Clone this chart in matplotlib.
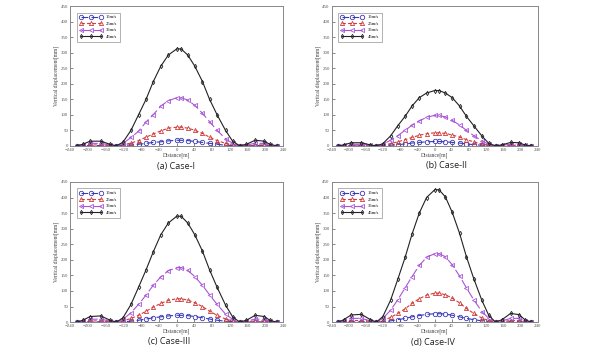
import numpy as np
import matplotlib
matplotlib.use("Agg")
import matplotlib.pyplot as plt

# distance positions of the computed points [m]
dist = [-225, -212, -195, -171, -150, -136, -121, -103, -86, -69, -53, -36, -19, 0,
        10, 25, 41, 58, 74, 91, 110, 126, 142, 157, 177, 197, 210, 225]

speeds = ["15m/s", "25m/s", "35m/s", "45m/s"]

# case I
c1_15 = [0, 0, 1, 1, 0, 0, 1, 3, 5, 8, 11, 13, 16, 18, 18, 17, 14, 11, 8, 5, 2, 1, 0, 0, 1, 1, 0, 0]
c1_25 = [0, 1, 3, 3, 1, 0, 3, 9, 17, 28, 38, 48, 57, 60, 60, 57, 50, 40, 28, 17, 8, 3, 0, 1, 3, 3, 1, 0]
c1_35 = [0, 3, 8, 8, 3, 0, 8, 27, 47, 77, 100, 128, 145, 155, 155, 147, 130, 105, 78, 50, 23, 8, 1, 3, 8, 8, 3, 0]
c1_45 = [0, 5, 15, 15, 5, 0, 12, 50, 100, 150, 206, 256, 292, 312, 312, 292, 256, 207, 150, 100, 50, 15, 0, 5, 18, 15, 5, 0]

# case II
c2_15 = [0, 0, 1, 1, 0, 0, 1, 2, 4, 6, 9, 11, 13, 14, 14, 13, 11, 9, 6, 4, 2, 1, 0, 0, 1, 1, 0, 0]
c2_25 = [0, 1, 2, 2, 1, 0, 2, 7, 13, 20, 27, 34, 39, 42, 42, 40, 35, 28, 20, 13, 6, 2, 0, 1, 2, 2, 1, 0]
c2_35 = [0, 2, 5, 5, 2, 0, 5, 18, 33, 50, 66, 80, 92, 98, 98, 93, 82, 67, 50, 33, 16, 5, 0, 2, 5, 5, 2, 0]
c2_45 = [0, 3, 10, 10, 3, 0, 7, 32, 65, 95, 128, 155, 170, 178, 178, 170, 155, 128, 95, 65, 32, 8, 0, 3, 11, 10, 3, 0]

# case III
c3_15 = [0, 0, 1, 1, 0, 0, 1, 3, 6, 10, 14, 17, 20, 22, 22, 21, 18, 14, 10, 6, 3, 1, 0, 0, 1, 1, 0, 0]
c3_25 = [0, 1, 4, 4, 1, 0, 4, 12, 22, 35, 48, 60, 70, 75, 75, 71, 62, 50, 35, 22, 10, 4, 0, 1, 4, 4, 1, 0]
c3_35 = [0, 3, 9, 10, 3, 0, 9, 30, 57, 87, 118, 145, 165, 175, 175, 166, 146, 118, 88, 57, 26, 9, 1, 3, 10, 9, 3, 0]
c3_45 = [0, 6, 18, 20, 6, 0, 14, 57, 112, 168, 225, 280, 318, 340, 340, 318, 280, 228, 168, 112, 55, 17, 0, 6, 22, 18, 6, 0]

# case IV
c4_15 = [0, 0, 1, 1, 0, 0, 1, 4, 8, 12, 17, 21, 25, 27, 27, 26, 22, 17, 12, 8, 4, 1, 0, 0, 1, 1, 0, 0]
c4_25 = [0, 2, 5, 5, 2, 0, 5, 15, 28, 43, 60, 75, 87, 93, 93, 88, 77, 62, 44, 28, 13, 5, 0, 2, 5, 5, 2, 0]
c4_35 = [0, 4, 12, 12, 4, 0, 12, 38, 72, 110, 146, 182, 208, 220, 220, 210, 184, 148, 110, 72, 34, 12, 1, 4, 12, 12, 4, 0]
c4_45 = [0, 8, 23, 25, 8, 0, 18, 70, 138, 208, 282, 350, 400, 425, 425, 402, 352, 285, 210, 140, 70, 22, 0, 8, 28, 24, 8, 0]

cases = [
    ("(a) Case-I", [c1_15, c1_25, c1_35, c1_45]),
    ("(b) Case-II", [c2_15, c2_25, c2_35, c2_45]),
    ("(c) Case-III", [c3_15, c3_25, c3_35, c3_45]),
    ("(d) Case-IV", [c4_15, c4_25, c4_35, c4_45]),
]

styles = [
    dict(color="#3a3ab8", marker="o", ls=(0, (6, 3)), ms=3.2),
    dict(color="#d03a3a", marker="^", ls=(0, (3, 2)), ms=3.0),
    dict(color="#a855d8", marker="<", ls=(0, (8, 3)), ms=3.0),
    dict(color="#222222", marker="d", ls="-", ms=2.2),
]

# axes boxes in figure fraction [left, bottom, width, height]
boxes = [
    [0.117, 0.588, 0.355, 0.395],
    [0.553, 0.588, 0.343, 0.395],
    [0.117, 0.090, 0.355, 0.396],
    [0.553, 0.090, 0.343, 0.396],
]
caption_pos = [(0.294, 0.518), (0.744, 0.519), (0.282, 0.022), (0.721, 0.019)]

plt.rcParams['font.family'] = ['Liberation Serif', 'DejaVu Serif']

fig = plt.figure(figsize=(6.0, 3.54), dpi=100)

for (title, series), box, cap in zip(cases, boxes, caption_pos):
    ax = fig.add_axes(box)
    for vals, lab, st in zip(series, speeds, styles):
        ax.plot(dist, vals, color=st["color"], ls=st["ls"], lw=0.8,
                marker=st["marker"], ms=st["ms"], mfc="none", mew=0.6, label=lab)
    ax.set_xlim(-240, 240)
    ax.set_ylim(0, 450)
    ax.set_xticks(np.arange(-240, 241, 40))
    ax.set_yticks(np.arange(0, 451, 50))
    ax.tick_params(direction="in", length=2, width=0.5, labelsize=3.5, pad=1.5,
                   colors="#555555")
    for sp in ax.spines.values():
        sp.set_color("#888888")
        sp.set_linewidth(0.7)
    ax.set_xlabel("Distance[m]", fontsize=4, labelpad=0.5, color="#444444")
    ax.set_ylabel("Vertical displacement[mm]", fontsize=4, labelpad=1, color="#444444")
    leg = ax.legend(loc="upper left", fontsize=3.3, frameon=True, fancybox=False,
                    handlelength=5, borderpad=0.6, labelspacing=0.5, numpoints=3,
                    bbox_to_anchor=(0.02, 0.97))
    leg.get_frame().set_edgecolor("#777777")
    leg.get_frame().set_linewidth(0.5)
    fig.text(cap[0], cap[1], title, ha="center", va="bottom", fontsize=6.5,
             family=["Open Sans", "DejaVu Sans"], color="#222222")

fig.savefig("out.png", dpi=100)
